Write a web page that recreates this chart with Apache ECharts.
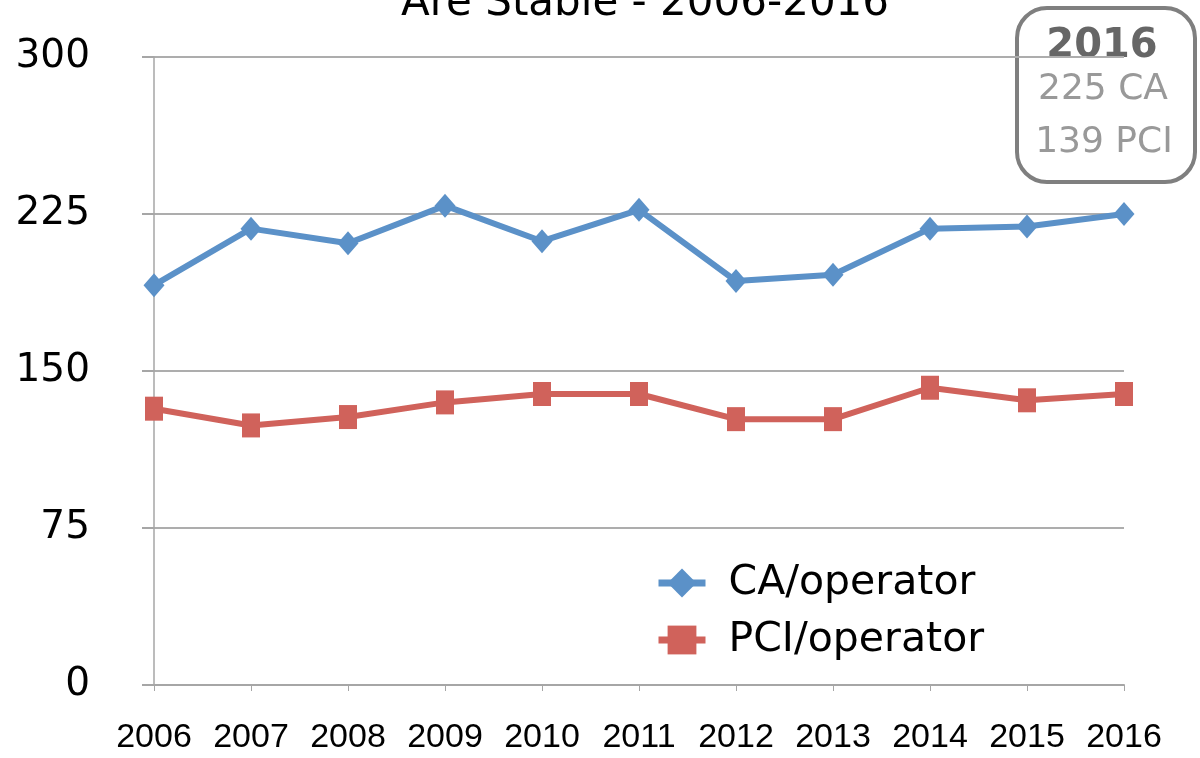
<!DOCTYPE html>
<html>
<head>
<meta charset="utf-8">
<script src="https://cdn.jsdelivr.net/npm/echarts@6/dist/echarts.min.js"></script>
<style>
html,body{margin:0;padding:0;background:#fff}
#chart{width:1200px;height:758px}
</style>
</head>
<body>
<div id="chart"></div>
<script>
var years = ['2006','2007','2008','2009','2010','2011','2012','2013','2014','2015','2016'];
var caPerOperator = [191, 218, 211, 229, 212, 227, 193, 196, 218, 219, 225];
var pciPerOperator = [132, 124, 128, 135, 139, 139, 127, 127, 142, 136, 139];
var yTicks = [0, 75, 150, 225, 300];

var chart = echarts.init(document.getElementById('chart'));
var wide = '"DejaVu Sans", sans-serif';
var narrow = '"Liberation Sans", Arial, sans-serif';

var option = {
    animation: false,
    title: {
        text: 'Are Stable - 2006-2016',
        left: 640,
        textAlign: 'center',
        top: -22,
        textStyle: {fontSize: 42, fontWeight: 'normal', color: '#000', fontFamily: wide}
    },
    grid: {left: 154, right: 76, top: 57, bottom: 73},
    legend: {
        orient: 'vertical',
        left: 650,
        top: 557,
        itemWidth: 47,
        itemHeight: 36,
        itemGap: 15,
        lineStyle: {width: 7},
        textStyle: {fontSize: 41, lineHeight: 42, color: '#000', fontFamily: wide, padding: [0, 0, 0, 18]},
        data: ['CA/operator', 'PCI/operator']
    },
    xAxis: {
        type: 'category',
        data: years,
        boundaryGap: false,
        axisLine: {lineStyle: {color: '#a6a6a6', width: 2}},
        axisTick: {show: true, interval: 0, alignWithLabel: true, length: 6, lineStyle: {color: '#a6a6a6'}},
        axisLabel: {interval: 0, hideOverlap: false, fontSize: 34, color: '#000', margin: 36, fontFamily: narrow}
    },
    yAxis: {
        type: 'value',
        min: yTicks[0],
        max: yTicks[yTicks.length - 1],
        interval: 75,
        axisLine: {show: true, lineStyle: {color: '#a6a6a6', width: 1.5}},
        axisTick: {show: true, length: 12, lineStyle: {color: '#a6a6a6', width: 2}},
        splitLine: {lineStyle: {color: '#adadad', width: 2}},
        axisLabel: {fontSize: 39, color: '#000', margin: 64, fontFamily: wide}
    },
    series: [{
        name: 'CA/operator',
        type: 'line',
        data: caPerOperator,
        symbol: 'diamond',
        symbolSize: [21, 24],
        lineStyle: {width: 6, color: '#5b91c8'},
        itemStyle: {color: '#5b91c8'}
    }, {
        name: 'PCI/operator',
        type: 'line',
        data: pciPerOperator,
        symbol: 'rect',
        symbolSize: [18, 24],
        lineStyle: {width: 6, color: '#d0625b'},
        itemStyle: {color: '#d0625b'}
    }],
    graphic: [{
        type: 'group',
        left: 1015,
        top: 6,
        children: [{
            type: 'rect',
            shape: {x: 0, y: 0, width: 178, height: 174, r: 30},
            style: {fill: '#fff', stroke: '#7f7f7f', lineWidth: 4}
        }, {
            type: 'text',
            x: 85, y: 19,
            style: {text: '2016', fill: '#666', font: 'bold 40px ' + wide, align: 'center'}
        }, {
            type: 'text',
            x: 86, y: 64,
            style: {text: caPerOperator[caPerOperator.length - 1] + ' CA', fill: '#999', font: '36px ' + wide, align: 'center'}
        }, {
            type: 'text',
            x: 87, y: 117,
            style: {text: pciPerOperator[pciPerOperator.length - 1] + ' PCI', fill: '#999', font: '36px ' + wide, align: 'center'}
        }]
    }]
};

chart.setOption(option);
</script>
</body>
</html>
